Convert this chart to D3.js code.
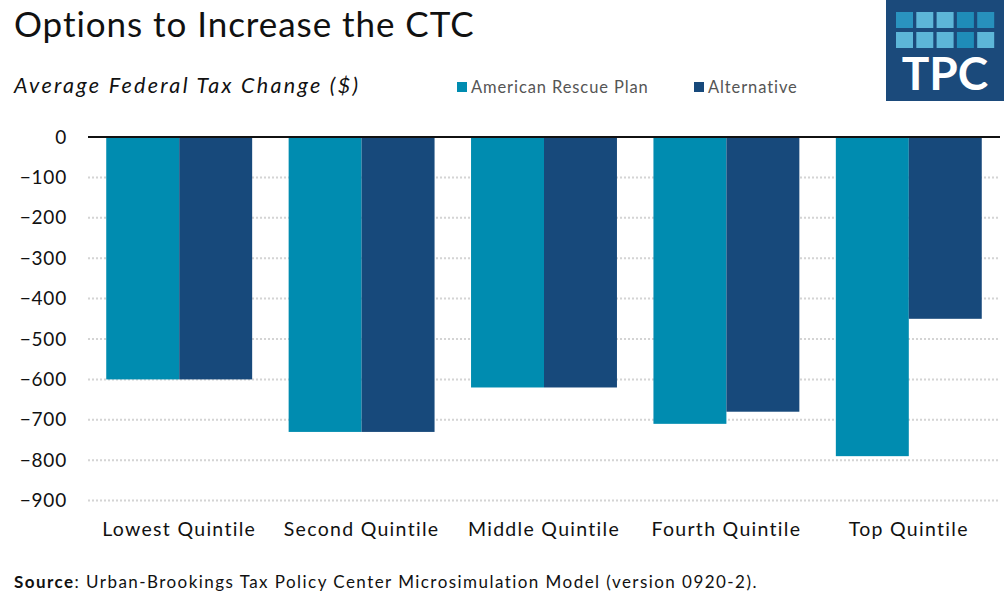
<!DOCTYPE html>
<html>
<head>
<meta charset="utf-8">
<script src="https://cdn.jsdelivr.net/npm/d3@7"></script>
<style>
  body { margin: 0; background: #fff; }
  svg { display: block; font-family: Lato, "Noto Sans", sans-serif; }
</style>
</head>
<body>
<div id="chart"></div>
<script>
// Data
const categories = ['Lowest Quintile', 'Second Quintile', 'Middle Quintile', 'Fourth Quintile', 'Top Quintile'];
const seriesNames = ['American Rescue Plan', 'Alternative'];
const arpValues = [-600, -730, -620, -710, -790];
const altValues = [-600, -730, -620, -680, -450];
const yTicks = [0, -100, -200, -300, -400, -500, -600, -700, -800, -900];

const colors = ['#008cb0', '#17497b'];
const width = 1004, height = 603;
const margin = { top: 137, right: 4, bottom: 102, left: 88 };

const svg = d3.select('#chart').append('svg')
  .attr('width', width)
  .attr('height', height);

// Title and subtitle
svg.append('text')
  .attr('x', 14).attr('y', 37)
  .style('font-size', '35px')
  .style('letter-spacing', '0.95px')
  .style('fill', '#111')
  .text('Options to Increase the CTC');

svg.append('text')
  .attr('x', 14).attr('y', 93)
  .style('font-size', '21.5px')
  .style('font-style', 'italic')
  .style('letter-spacing', '2.3px')
  .style('fill', '#111')
  .text('Average Federal Tax Change ($)');

// Legend
const legend = svg.append('g').attr('transform', 'translate(457,88)');
const legendX = [0, 237];
seriesNames.forEach((name, i) => {
  const g = legend.append('g').attr('transform', `translate(${legendX[i]},0)`);
  g.append('rect').attr('x', 0).attr('y', -6).attr('width', 10).attr('height', 10).attr('fill', colors[i]);
  g.append('text').attr('x', 14).attr('y', 5)
    .style('font-size', '16.5px').style('letter-spacing', '0.9px')
    .style('fill', '#555').text(name);
});

// Logo
const logo = svg.append('g').attr('transform', 'translate(886,0)');
logo.append('rect').attr('width', 118).attr('height', 101).attr('fill', '#1b4a7b');
const logoShades = [
  ['#2a93bf', '#5db6d8', '#5db6d8', '#1f8cb8', '#2790bc'],
  ['#5db6d8', '#5db6d8', '#5db6d8', '#1f8cb8', '#5db6d8']
];
logoShades.forEach((row, r) => {
  row.forEach((c, k) => {
    logo.append('rect')
      .attr('x', 10 + k * 20.3).attr('y', 12 + r * 20)
      .attr('width', 17).attr('height', 16)
      .attr('fill', c);
  });
});
logo.append('text')
  .attr('x', 59).attr('y', 90)
  .attr('text-anchor', 'middle')
  .style('font-size', '46px')
  .style('font-weight', 'bold')
  .style('fill', '#fff')
  .text('TPC');

// Scales
const x = d3.scaleBand()
  .domain(categories)
  .range([margin.left, width - margin.right])
  .paddingInner(0.2)
  .paddingOuter(0.1);

const xInner = d3.scaleBand()
  .domain(seriesNames)
  .range([0, x.bandwidth()]);

const y = d3.scaleLinear()
  .domain([0, -900])
  .range([margin.top, 500.6]);

// Gridlines
svg.append('g')
  .selectAll('line')
  .data(yTicks.filter(d => d !== 0))
  .enter()
  .append('line')
  .attr('x1', margin.left).attr('x2', width - margin.right)
  .attr('y1', d => y(d)).attr('y2', d => y(d))
  .attr('stroke', '#d4d4d4')
  .attr('stroke-width', 2)
  .attr('stroke-dasharray', '2,2');

// Bars
const rows = categories.map((c, i) => ({ cat: c, vals: [arpValues[i], altValues[i]] }));
const groups = svg.append('g').selectAll('g')
  .data(rows)
  .enter()
  .append('g')
  .attr('transform', d => `translate(${x(d.cat)},0)`);

groups.selectAll('rect')
  .data(d => d.vals.map((v, i) => ({ name: seriesNames[i], v, i })))
  .enter()
  .append('rect')
  .attr('x', d => xInner(d.name))
  .attr('y', y(0))
  .attr('width', xInner.bandwidth())
  .attr('height', d => y(d.v) - y(0))
  .attr('fill', d => colors[d.i]);

// Zero line
svg.append('line')
  .attr('x1', margin.left).attr('x2', width - margin.right)
  .attr('y1', y(0)).attr('y2', y(0))
  .attr('stroke', '#111')
  .attr('stroke-width', 2);

// Y axis labels
const yAxis = svg.append('g')
  .attr('transform', `translate(${margin.left},0)`)
  .call(d3.axisLeft(y).tickValues(yTicks).tickSize(0).tickPadding(21));
yAxis.select('.domain').remove();
yAxis.selectAll('text')
  .style('font-family', 'Lato, "Noto Sans", sans-serif')
  .style('font-size', '19px')
  .style('letter-spacing', '0.8px')
  .style('fill', '#111');

// X axis labels
const xAxis = svg.append('g')
  .attr('transform', `translate(0,${y(-900)})`)
  .call(d3.axisBottom(x).tickSize(0).tickPadding(22));
xAxis.select('.domain').remove();
xAxis.selectAll('text')
  .style('font-family', 'Lato, "Noto Sans", sans-serif')
  .style('font-size', '19.5px')
  .style('letter-spacing', '1.3px')
  .style('fill', '#111');

// Source note
const src = svg.append('text')
  .attr('x', 14).attr('y', 588)
  .style('font-size', '17px')
  .style('letter-spacing', '1.45px')
  .style('fill', '#111');
src.append('tspan').style('font-weight', 'bold').text('Source');
src.append('tspan').text(': Urban-Brookings Tax Policy Center Microsimulation Model (version 0920-2).');
</script>
</body>
</html>
